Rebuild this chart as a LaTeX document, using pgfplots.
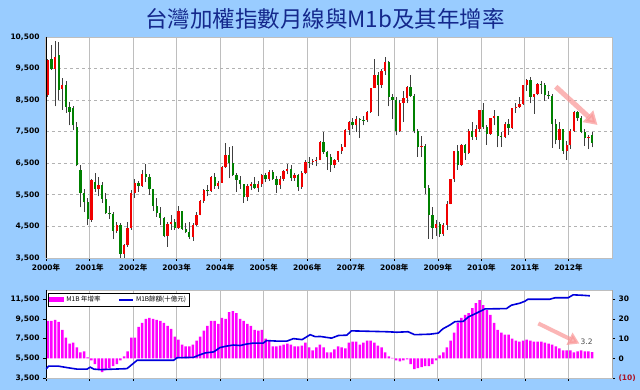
\documentclass[border=0pt]{standalone}
\usepackage{pgfplots}
\pgfplotsset{compat=1.18}
\usepackage{pgfplotstable}
\usepackage{fontspec}
\setmainfont{DejaVu Sans}
\newfontfamily\cjk{Noto Sans CJK TC}
\usetikzlibrary{arrows.meta}
\definecolor{bgblue}{RGB}{153,204,255}
\definecolor{upred}{RGB}{240,0,0}
\definecolor{dngreen}{RGB}{0,128,0}
\definecolor{gridg}{RGB}{190,190,190}
\definecolor{navy}{RGB}{20,40,140}
\definecolor{mag}{RGB}{255,0,255}
\definecolor{lineblue}{RGB}{0,0,220}
\definecolor{negred}{RGB}{170,20,40}
\definecolor{arrowpink}{RGB}{250,150,150}

% TAIEX monthly OHLC, Jan 2000 - Jul 2012
\pgfplotstableread{
o h l c
8650 9800 8600 9770
9800 10250 9450 9480
9480 10370 8300 9880
9930 10350 8500 8820
8850 9200 8200 8980
8980 9100 8100 8280
8280 8450 7700 8120
8250 8300 7550 7700
7650 7800 6400 6450
6300 6450 5100 5560
5560 5700 4950 5260
5260 5400 4555 4740
4700 6000 4650 5960
5900 6200 5600 5680
5680 6050 5450 5800
5800 5900 5250 5380
5380 5550 4900 4940
4940 5150 4750 4880
4880 4950 4100 4350
4350 4650 4300 4560
4560 4600 3411 3640
3640 3950 3450 3900
3900 4650 3850 4440
4440 5650 4400 5550
5560 6000 5400 5870
5870 5950 5600 5790
5790 6300 5750 6170
6170 6484 5900 6060
6060 6150 5500 5670
5670 5700 5000 5150
5150 5400 4800 4940
4940 5100 4550 4760
4760 4800 4150 4190
4190 4650 3850 4580
4580 4850 4400 4640
4640 4750 4400 4450
4450 5140 4420 4980
4980 5000 4400 4430
4430 4600 4300 4320
4320 4650 4100 4150
4150 4600 4040 4560
4560 4950 4500 4870
4870 5350 4850 5320
5320 5700 5250 5650
5650 5800 5450 5610
5610 6100 5600 6050
6050 6180 5700 5770
5770 5950 5700 5890
5890 6400 5870 6380
6380 7135 6350 6750
6750 7000 6020 6520
6520 7034 6100 6120
6120 6200 5600 5980
5980 6100 5700 5840
5840 5850 5255 5420
5420 5850 5300 5770
5770 5900 5650 5850
5850 6050 5700 5710
5710 5950 5600 5840
5840 6150 5750 6140
6140 6200 5900 5990
5990 6300 5950 6210
6210 6300 5980 6010
6010 6100 5565 5820
5820 6100 5700 6010
6010 6300 5950 6240
6240 6480 6150 6310
6310 6450 5950 6030
6030 6200 5950 6120
6120 6150 5618 5760
5760 6250 5700 6200
6200 6600 6150 6550
6550 6700 6350 6530
6530 6650 6450 6560
6560 6700 6400 6610
6610 7200 6600 7170
7170 7476 6800 6850
6850 6900 6300 6700
6700 6800 6230 6450
6450 6650 6350 6610
6610 6900 6550 6880
6880 7100 6800 7020
7020 7600 7000 7570
7570 7850 7400 7820
7820 7950 7600 7700
7700 8000 7500 7900
7900 7950 7300 7880
7880 8000 7700 7870
7870 8150 7800 8140
8140 8900 8100 8880
8880 9807 8880 9290
9290 9400 7987 8980
8980 9500 8900 9410
9410 9859 9300 9710
9710 9750 8300 8590
8590 8700 7900 8510
8510 8600 7384 7520
7520 8500 7500 8410
8410 8800 7800 8570
8570 8960 8400 8920
8920 9309 8600 8620
8620 8700 7450 7520
7520 7600 6710 7020
7020 7376 6700 7050
7050 7100 5530 5720
5720 5800 4110 4870
4870 5100 4090 4460
4460 4700 4200 4590
4590 4650 4164 4250
4250 4600 4200 4560
4560 5300 4400 5210
5210 6000 5200 5990
5990 6890 5900 6890
6890 7084 6300 6430
6430 7100 6400 7080
7080 7100 6600 6830
6830 7600 6800 7510
7510 7800 7250 7340
7340 7700 7250 7580
7580 8200 7500 8190
8190 8395 7600 7640
7640 7700 7080 7440
7440 7950 7400 7920
7920 8190 7700 8000
8000 8000 7000 7370
7370 7500 7030 7330
7330 7800 7300 7760
7760 7900 7400 7620
7620 8250 7600 8240
8240 8400 8100 8290
8290 8600 8250 8370
8370 8990 8350 8970
8970 9180 8800 9145
9145 9220 8400 8600
8600 8700 8070 8680
8680 9050 8650 9010
9010 9100 8700 8990
8990 9050 8470 8650
8650 8800 8550 8640
8640 8700 6990 7740
7740 7900 7100 7230
7230 7800 6950 7590
7590 7600 6800 6900
6900 7200 6600 7070
7070 7600 6950 7520
7520 8170 7500 8120
8120 8170 7850 7930
7930 8000 7450 7500
7500 7600 7050 7300
7300 7400 6950 7330
7400 7500 7000 7150
}\taiex

% M1B year-on-year growth (%), Jan 2000 - Jul 2012
\pgfplotstableread{
v
19
19
19.5
18.5
14.5
10.5
7.5
8
5.5
3
3.5
0.5
-1
-3
-5.5
-7
-6
-5
-4
-3
-1
1
3.5
10.5
10.5
16
18
20
20.5
20
19.5
19
18
16.5
15
11
9.5
7
6
6
7
9
11
14
16.5
19
19
17.5
20.5
20
23.5
24
23
20
19
17.5
16.5
14.5
14
14.5
10
9
6
6
6.5
7
7.5
7
6
6
6.5
8
5.5
4
5.5
7
5.5
3
3
4.5
6
5.5
5
8
8.5
8.5
7
8
9
9
8
6.5
5.5
3
1
0.2
-1
-1.5
-1
-0.5
-3
-5.5
-5
-4.5
-4
-4
-3
-1
1.5
3
5.5
9
13
18
20.5
22
23
25.5
28
29.5
27
24.5
22
18
14.5
13
12
12
10
9
8.5
9
9.5
9
8.5
8.5
8.5
8
7.5
7
6
5
4
4
4
3
3.5
4
3.5
3.5
3.2
}\mone

\pgfplotsset{
  mybase/.style={
    scale only axis,
    xmin=0, xmax=156,
    xtick={0,12,...,144},
    scaled ticks=false,
    tick align=outside,
    major tick length=3pt,
    tick style={black, line width=0.6pt},
    axis line style={gridg, line width=0.8pt},
    x grid style={gridg, line width=1pt},
    tick label style={font=\bfseries\fontsize{7.5}{8}\selectfont, text=black},
    /pgf/number format/assume math mode=true,
    /pgf/number format/1000 sep={,},
  },
  candle/.style={draw=none, mark=none, forget plot,
    error bars/.cd, y dir=plus, y explicit, error mark=none,
    error bar style={draw=#1}},
}

\begin{document}
\begin{tikzpicture}
\fill[bgblue] (0pt,0pt) rectangle (640pt,390pt);
\node[font=\cjk\fontsize{22.5}{22.5}\selectfont, text=navy] at (325pt,371pt) {台灣加權指數月線與M1b及其年增率};

% ---------- upper panel: TAIEX monthly candlesticks ----------
\begin{axis}[mybase,
  at={(46pt,132pt)}, anchor=south west,
  width=566pt, height=221pt,
  axis background/.style={fill=white},
  ymin=3500, ymax=10500,
  ytick={3500,4500,...,10500},
  xmajorgrids, ymajorgrids,
  y grid style={gray!60, dash pattern=on 3pt off 3pt, line width=0.8pt},
  xtick pos=left, ytick pos=left,
  ytick style={draw=none},
  xticklabels={2000{\cjk 年},2001{\cjk 年},2002{\cjk 年},2003{\cjk 年},2004{\cjk 年},2005{\cjk 年},2006{\cjk 年},2007{\cjk 年},2008{\cjk 年},2009{\cjk 年},2010{\cjk 年},2011{\cjk 年},2012{\cjk 年}},
]
% wicks
\addplot[candle={black!75, line width=0.8pt}]
  table[x expr=\coordindex+0.5, y=l, y error plus expr=\thisrow{h}-\thisrow{l}] {\taiex};
% rising bodies
\addplot[candle={upred, line width=2.3pt}]
  table[x expr=\coordindex+0.5, y=o, y error plus expr={max(\thisrow{c}-\thisrow{o},0)}] {\taiex};
% falling bodies
\addplot[candle={dngreen, line width=2.3pt}]
  table[x expr=\coordindex+0.5, y=c, y error plus expr={max(\thisrow{o}-\thisrow{c},0)}] {\taiex};
\draw[black, line width=0.8pt] (rel axis cs:0,1) -- (rel axis cs:0,0) -- (rel axis cs:1,0);
\draw[-{Triangle[width=15pt,length=13pt]}, line width=5pt, arrowpink, opacity=0.7]
  (axis cs:140.5,8926) -- (axis cs:152,7713);
\end{axis}

% ---------- lower panel: M1B growth bars (right axis) ----------
\begin{axis}[mybase,
  at={(46pt,12pt)}, anchor=south west,
  width=566pt, height=88pt,
  axis background/.style={fill=white},
  ymin=-10, ymax=34.7,
  ytick={-10,0,10,20,30},
  yticklabels={{\color{negred}(10)},0,10,20,30},
  ytick pos=right, yticklabel pos=right,
  xtick pos=left, xticklabels={},
  xmajorgrids,
  legend columns=2,
  legend style={at={(0.004,0.965)}, anchor=north west, draw=black, fill=white,
    font=\cjk\fontsize{6.5}{7}\selectfont, inner sep=1pt,
    /tikz/every even column/.append style={column sep=16pt}},
]
\addplot[fill=mag, draw=none, ybar, bar width=2.5pt,
  legend image code/.code={\fill[mag] (0pt,-2.5pt) rectangle (15pt,2.5pt);}]
  table[x expr=\coordindex+0.5, y=v] {\mone};
\addlegendentry{M1B 年增率}
\addlegendimage{lineblue, line width=1.5pt, legend image code/.code={\draw[lineblue, line width=1.5pt] (0pt,0pt) -- (14pt,0pt);}}
\addlegendentry{M1B餘額(十億元)}
\draw[black, line width=0.8pt] (rel axis cs:0,1) -- (rel axis cs:0,0) -- (rel axis cs:1,0) -- (rel axis cs:1,1);
\draw[-{Triangle[width=13pt,length=11pt]}, line width=4pt, arrowpink, opacity=0.7]
  (axis cs:135.7,17.7) -- (axis cs:147,7.5);
\node[font=\fontsize{7.5}{8}\selectfont, text=black!70] at (axis cs:149,8.2) {3.2};
\end{axis}

% ---------- lower panel: M1B level line (left axis) ----------
\begin{axis}[mybase,
  at={(46pt,12pt)}, anchor=south west,
  width=566pt, height=88pt,
  ymin=3500, ymax=12442,
  ytick={3500,5500,...,11500},
  ytick pos=left, xtick=\empty,
  axis line style={draw=none},
]
\addplot[lineblue, line width=1.6pt, mark=none] coordinates {
(0,4410) (0.72,4700) (3.5,4700) (5.9,4550) (8.6,4400) (11.3,4400) (12.2,4600)
(13.2,4400) (15,4350) (18.7,4400) (22.3,4450) (23.8,4900) (25.1,5300) (35.2,5300)
(36.1,5560) (40.7,5600) (42,5800) (43.9,6050) (46.2,6150) (48,6600) (49.9,6750)
(51.7,6850) (53.5,6800) (55.3,6950) (57.2,7050) (59.9,7050) (60.8,7300) (63.6,7250)
(66.4,7250) (68.2,7500) (70.6,7400) (72.8,7900) (74.2,7700) (75.6,7720) (78.7,7550)
(80.6,7820) (82.9,7850) (84.2,8290) (94,8200) (96.7,8150) (99.8,8200) (101.6,7900)
(105.8,7950) (108.1,8060) (109.4,8500) (111.4,8900) (112.7,9230) (115,9250)
(116.4,9700) (118.7,10100) (121,10520) (126.9,10550) (128.3,10900) (130.6,11100)
(132,11300) (132.8,11500) (138.8,11500) (140.3,11650) (143.9,11650) (145.3,11950)
(148.1,11900) (149.9,11850)
};
\end{axis}
\pgfresetboundingbox
\useasboundingbox (0pt,0pt) rectangle (640pt,390pt);
\end{tikzpicture}
\end{document}
